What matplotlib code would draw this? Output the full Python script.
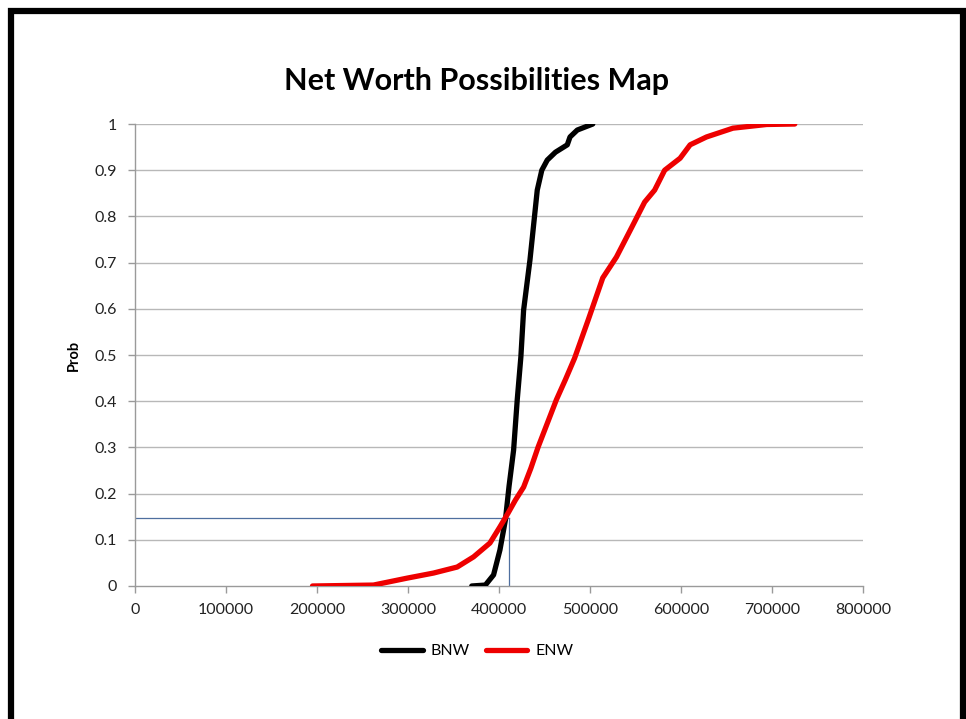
import matplotlib
matplotlib.use("Agg")
import matplotlib.pyplot as plt
from matplotlib.patches import Rectangle

# net worth values (dollars) and cumulative probability
bnw_x = [370000, 385000, 394000, 401000, 407000, 411000, 416000, 420000, 424000,
         427000, 434000, 442000, 447000, 453000, 462000, 475000, 478000, 486000, 503000]
bnw_p = [0.0, 0.002, 0.024, 0.078, 0.143, 0.216, 0.294, 0.403, 0.496,
         0.597, 0.706, 0.857, 0.900, 0.922, 0.939, 0.955, 0.972, 0.987, 1.0]

enw_x = [195000, 262000, 299000, 328000, 354000, 372000, 390000, 401000, 410000,
         418000, 427000, 435000, 443000, 453000, 463000, 473000, 483000, 498000,
         514000, 529000, 546000, 560000, 571000, 582000, 599000, 610000, 628000,
         657000, 694000, 725000]
enw_p = [0.0, 0.002, 0.017, 0.028, 0.041, 0.063, 0.093, 0.128, 0.158,
         0.186, 0.214, 0.255, 0.301, 0.352, 0.403, 0.447, 0.493, 0.576,
         0.667, 0.712, 0.777, 0.831, 0.857, 0.900, 0.926, 0.955, 0.972,
         0.991, 0.999, 1.0]

# crosshair marking where the curves meet
cross_x = 411000
cross_p = 0.147

x_ticks = [0, 100000, 200000, 300000, 400000, 500000, 600000, 700000, 800000]
y_ticks = [0, 0.1, 0.2, 0.3, 0.4, 0.5, 0.6, 0.7, 0.8, 0.9, 1]
y_labels = ["0", "0.1", "0.2", "0.3", "0.4", "0.5", "0.6", "0.7", "0.8", "0.9", "1"]

plt.rcParams["font.family"] = ["Lato", "DejaVu Sans"]

fig = plt.figure(figsize=(9.66, 7.19), dpi=100)
ax = fig.add_axes([0.1398, 0.185, 0.7536, 0.6425])

grey = "#9a9a9a"
for y in y_ticks[1:]:
    ax.axhline(y, color="#b8b8b8", lw=1.0, zorder=1)

ax.plot([0, cross_x], [cross_p, cross_p], color="#4f6f9f", lw=0.9, zorder=2)
ax.plot([cross_x, cross_x], [0, cross_p], color="#4f6f9f", lw=0.9, zorder=2)

ax.plot(bnw_x, bnw_p, color="black", lw=3.8, solid_capstyle="round", label="BNW", zorder=3)
ax.plot(enw_x, enw_p, color="#ee0000", lw=3.8, solid_capstyle="round", label="ENW", zorder=4)

ax.set_xlim(0, 800000)
ax.set_ylim(0, 1)
ax.set_xticks(x_ticks)
ax.set_xticklabels([str(v) for v in x_ticks])
ax.set_yticks(y_ticks)
ax.set_yticklabels(y_labels)
ax.tick_params(axis="both", colors=grey, labelcolor="#222222", labelsize=11.5, length=5, width=1)
ax.tick_params(axis="x", pad=7)
ax.tick_params(axis="y", pad=8)

for side in ["top", "right"]:
    ax.spines[side].set_visible(False)
for side in ["left", "bottom"]:
    ax.spines[side].set_color(grey)
    ax.spines[side].set_linewidth(1)

ax.set_ylabel("Prob", fontsize=10.5, fontweight="bold", labelpad=10)
fig.text(0.4935, 0.887, "Net Worth Possibilities Map", ha="center", va="center",
         fontsize=22, fontweight="bold")

ax.legend(loc="upper center", bbox_to_anchor=(0.47, -0.095), ncol=2, frameon=False,
          fontsize=11.5, handlelength=2.6, columnspacing=1.0, handletextpad=0.5)

# thick black frame around the chart
fig.patches.append(Rectangle((11 / 966, -0.05), (963 - 11) / 966, 1.05 - 11 / 719,
                             transform=fig.transFigure, fill=False,
                             edgecolor="black", linewidth=4.5, zorder=10))

fig.savefig("out.png", dpi=100)
